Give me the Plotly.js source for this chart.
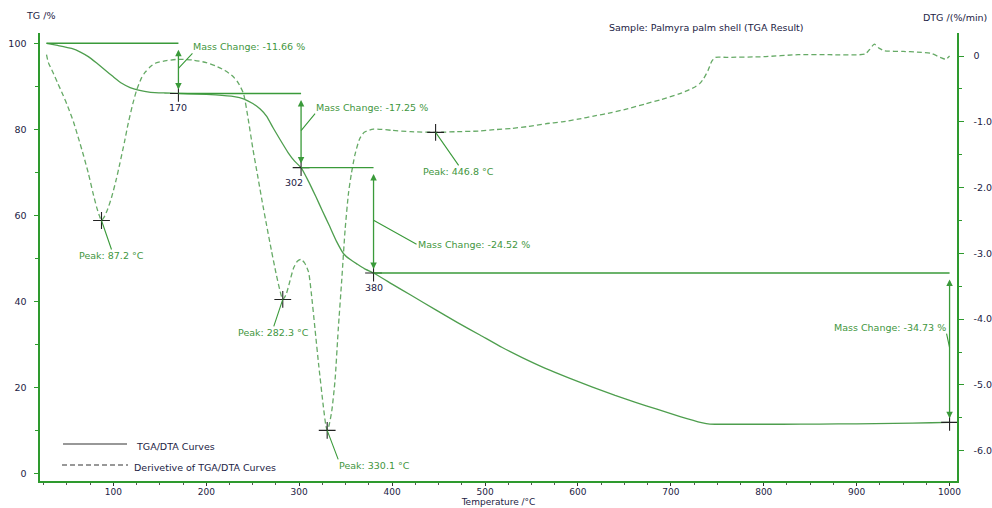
<!DOCTYPE html>
<html>
<head>
<meta charset="utf-8">
<script src="https://cdn.plot.ly/plotly-3.0.1.min.js"></script>
<style>html,body{margin:0;padding:0;background:#fff;}#chart{width:992px;height:508px;}</style>
</head>
<body>
<div id="chart"></div>
<script>
// ---- data ----
const tempTG = [28, 40, 55, 65, 73, 82, 91, 100, 109, 118, 127, 140, 155, 170, 190, 210, 230, 240, 250, 258, 265, 272, 280, 288, 295, 302, 310, 318, 325, 332, 340, 348, 355, 362, 370, 380, 400, 420, 447, 470, 495, 518, 540, 565, 590, 615, 640, 662, 685, 710, 733, 742, 780, 820, 860, 900, 940, 980, 1000];
const massTG = [100, 99.5, 98.8, 97.9, 96.9, 95.4, 93.8, 92.2, 90.7, 89.7, 89.1, 88.6, 88.45, 88.34, 88.2, 88.0, 87.6, 87.1, 86.0, 84.7, 83.0, 80.3, 77.4, 74.6, 72.6, 71.09, 67.9, 64.3, 61.0, 57.8, 54.0, 51.0, 49.7, 48.7, 47.6, 46.57, 44.0, 41.45, 38.0, 35.1, 32.1, 29.3, 26.9, 24.4, 22.2, 20.1, 18.1, 16.5, 14.9, 13.2, 11.8, 11.45, 11.4, 11.4, 11.45, 11.5, 11.6, 11.75, 11.84];

const tempDTG = [28, 30, 35, 40, 46, 51, 57, 62, 68, 73, 78, 82, 85, 87.2, 90, 94, 98, 103, 107, 112, 116, 121, 125, 130, 134, 140, 145, 157, 170, 185, 200, 210, 220, 228, 234, 240, 245, 250, 255, 260, 265, 270, 275, 279, 282.3, 286, 290, 294, 298, 302, 306, 310, 313, 317, 321, 326, 328.5, 330.1, 332, 335, 338.6, 342, 345.8, 349.4, 353, 356, 360, 365, 370, 380, 400, 420, 447, 470, 493, 510, 529, 547, 565, 583, 600, 618, 636, 654, 672, 690, 708, 717, 726, 731, 735, 740, 744, 748, 760, 800, 837, 870, 909, 914, 919, 924, 930, 950, 965, 980, 990, 996, 1000];
const rateDTG = [0.02, -0.10, -0.25, -0.41, -0.60, -0.77, -1.00, -1.23, -1.52, -1.78, -2.08, -2.30, -2.43, -2.50, -2.45, -2.32, -2.15, -1.88, -1.63, -1.30, -1.02, -0.72, -0.52, -0.34, -0.25, -0.16, -0.11, -0.07, -0.05, -0.06, -0.10, -0.15, -0.22, -0.30, -0.40, -0.57, -0.95, -1.40, -1.80, -2.20, -2.58, -2.95, -3.30, -3.55, -3.70, -3.62, -3.42, -3.22, -3.12, -3.09, -3.15, -3.28, -3.60, -4.15, -4.70, -5.33, -5.60, -5.69, -5.62, -5.40, -4.92, -4.16, -3.40, -2.64, -2.09, -1.80, -1.50, -1.26, -1.16, -1.11, -1.13, -1.15, -1.16, -1.15, -1.14, -1.12, -1.10, -1.07, -1.03, -1.00, -0.96, -0.91, -0.86, -0.80, -0.73, -0.66, -0.58, -0.53, -0.47, -0.42, -0.35, -0.22, -0.08, -0.02, -0.02, -0.01, 0.02, 0.02, 0.03, 0.10, 0.18, 0.12, 0.08, 0.07, 0.06, 0.04, -0.02, -0.05, 0.00];

const startTemp = 28;
const startMass = 100;
const stepTemps = [170, 302, 380, 1000];
const stepMass = [88.34, 71.09, 46.57, 11.84];
const stepLabels = ['170', '302', '380', ''];
const massChange = [-11.66, -17.25, -24.52, -34.73];

const peakTemps = [87.2, 282.3, 330.1, 446.8];
const peakRates = [-2.50, -3.70, -5.69, -1.16];

const xTicks = [100, 200, 300, 400, 500, 600, 700, 800, 900, 1000];
const tgTicks = [0, 20, 40, 60, 80, 100];
const dtgTicks = [0, -1, -2, -3, -4, -5, -6];
const dtgLabels = ['0', '-1.0', '-2.0', '-3.0', '-4.0', '-5.0', '-6.0'];

// ---- style ----
const FONT = 'DejaVu Sans';
const AXIS_GREEN = '#2e9a2e';
const CURVE_GREEN = '#4e9e4e';
const DASH_GREEN = '#66aa66';
const ANN_GREEN = '#3a9a3a';
const TXT_GREEN = '#3f9640';
const DARK = '#222244';

// label placement (pixel offsets of text from leader point)
const mcOffsets = [[14, -15, 'left', 'bottom'], [14, -17, 'left', 'bottom'], [43, 24, 'left', 'middle'], [-3, -14, 'right', 'bottom']];
const pkOffsets = [[10, 29, 'center', 'top'], [-9, 27, 'center', 'top'], [11, 29, 'left', 'top'], [23, 33, 'center', 'top']];
const stepLabelShift = [0, -7, 0, 0];

const traces = [
  {x: tempTG, y: massTG, type: 'scatter', mode: 'lines', line: {color: CURVE_GREEN, width: 1.3, shape: 'spline', smoothing: 0.4}, yaxis: 'y', hoverinfo: 'skip', showlegend: false},
  {x: tempDTG, y: rateDTG, type: 'scatter', mode: 'lines', line: {color: DASH_GREEN, width: 1.3, dash: '5px,3px', shape: 'spline', smoothing: 0.6}, yaxis: 'y2', hoverinfo: 'skip', showlegend: false},
  {x: stepTemps, y: stepMass, type: 'scatter', mode: 'markers', marker: {symbol: 'cross-thin', size: 12, line: {color: '#222', width: 1.1}}, yaxis: 'y', showlegend: false},
  {x: peakTemps, y: peakRates, type: 'scatter', mode: 'markers', marker: {symbol: 'cross-thin', size: 12, line: {color: '#222', width: 1.1}}, yaxis: 'y2', showlegend: false}
];

const shapes = [];
const annotations = [];
const levels = [startMass].concat(stepMass);
const temps = [startTemp].concat(stepTemps);

for (let i = 0; i < stepTemps.length; i++) {
  shapes.push({type: 'line', xref: 'x', yref: 'y', x0: temps[i], x1: stepTemps[i], y0: levels[i], y1: levels[i], line: {color: ANN_GREEN, width: 1.4}});
  annotations.push({xref: 'x', yref: 'y', axref: 'x', ayref: 'y', x: stepTemps[i], y: stepMass[i], ax: stepTemps[i], ay: levels[i], text: '', showarrow: true, arrowside: 'end+start', arrowhead: 2, startarrowhead: 2, arrowsize: 1, startarrowsize: 1, arrowwidth: 1.3, arrowcolor: ANN_GREEN, standoff: 4, startstandoff: 5});
  const o = mcOffsets[i];
  annotations.push({xref: 'x', yref: 'y', x: stepTemps[i], y: (levels[i] + stepMass[i]) / 2, ax: o[0], ay: o[1], xanchor: o[2], yanchor: o[3], showarrow: true, arrowhead: 0, arrowwidth: 1.1, arrowcolor: ANN_GREEN, text: 'Mass Change: ' + massChange[i].toFixed(2) + ' %', font: {family: FONT, size: 9.5, color: TXT_GREEN}, borderpad: 0});
  if (stepLabels[i]) {
    annotations.push({xref: 'x', yref: 'y', x: stepTemps[i], y: stepMass[i], text: stepLabels[i], showarrow: false, yanchor: 'top', yshift: -7, xshift: stepLabelShift[i], font: {family: FONT, size: 9.5, color: DARK}});
  }
}

for (let i = 0; i < peakTemps.length; i++) {
  const o = pkOffsets[i];
  annotations.push({xref: 'x', yref: 'y2', x: peakTemps[i], y: peakRates[i], ax: o[0], ay: o[1], xanchor: o[2], yanchor: o[3], showarrow: true, arrowhead: 0, arrowwidth: 1.1, arrowcolor: ANN_GREEN, text: 'Peak: ' + peakTemps[i].toFixed(1) + ' °C', font: {family: FONT, size: 9.5, color: TXT_GREEN}, borderpad: 0});
}

// header texts
annotations.push({xref: 'paper', yref: 'paper', x: -0.017, y: 1.039, xanchor: 'left', yanchor: 'middle', showarrow: false, text: 'TG /%', font: {family: FONT, size: 9.5, color: DARK}});
annotations.push({xref: 'paper', yref: 'paper', x: 1.035, y: 1.035, xanchor: 'right', yanchor: 'middle', showarrow: false, text: 'DTG /(%/min)', font: {family: FONT, size: 9.5, color: DARK}});
annotations.push({xref: 'paper', yref: 'paper', x: 0.618, y: 1.012, xanchor: 'left', yanchor: 'middle', showarrow: false, text: 'Sample: Palmyra palm shell (TGA Result)', font: {family: FONT, size: 9.5, color: DARK}});

// legend (drawn)
shapes.push({type: 'line', xref: 'paper', yref: 'paper', x0: 0.0251, x1: 0.0949, y0: 0.0826, y1: 0.0826, line: {color: '#333', width: 1.2}});
shapes.push({type: 'line', xref: 'paper', yref: 'paper', x0: 0.0240, x1: 0.0960, y0: 0.0357, y1: 0.0357, line: {color: '#333', width: 1.2, dash: '5px,3px'}});
annotations.push({xref: 'paper', yref: 'paper', x: 0.1025, y: 0.0770, xanchor: 'left', yanchor: 'middle', showarrow: false, text: 'TGA/DTA Curves', font: {family: FONT, size: 9.5, color: DARK}});
annotations.push({xref: 'paper', yref: 'paper', x: 0.1003, y: 0.0300, xanchor: 'left', yanchor: 'middle', showarrow: false, text: 'Derivetive of TGA/DTA Curves', font: {family: FONT, size: 9.5, color: DARK}});

const layout = {
  width: 992, height: 508,
  margin: {l: 40, r: 35, t: 33, b: 27},
  paper_bgcolor: '#ffffff', plot_bgcolor: '#ffffff',
  showlegend: false,
  font: {family: FONT, size: 9.5, color: DARK},
  xaxis: {
    range: [21, 1008], tickvals: xTicks, ticks: 'outside', ticklen: 3, tickcolor: '#333', tickwidth: 1,
    minor: {dtick: 25, tick0: 0, ticks: 'outside', ticklen: 2, tickcolor: '#555'},
    showline: true, linecolor: AXIS_GREEN, linewidth: 1.6, showgrid: false, zeroline: false,
    tickfont: {family: FONT, size: 9, color: DARK}, ticklabelstandoff: -1,
    title: {text: 'Temperature /°C', font: {family: FONT, size: 9, color: DARK}, standoff: 0},
    automargin: false
  },
  yaxis: {
    range: [-1.8, 102.4], tickvals: tgTicks, ticks: 'outside', ticklen: 4, tickcolor: AXIS_GREEN, tickwidth: 1,
    minor: {dtick: 10, tick0: 0, ticks: 'outside', ticklen: 3, tickcolor: AXIS_GREEN},
    showline: true, linecolor: AXIS_GREEN, linewidth: 1.6, showgrid: false, zeroline: false,
    tickfont: {family: FONT, size: 9.5, color: DARK}, ticklabelstandoff: 6,
    automargin: false
  },
  yaxis2: {
    overlaying: 'y', side: 'right', anchor: 'x',
    range: [-6.46, 0.35], tickvals: dtgTicks, ticktext: dtgLabels, ticks: 'outside', ticklen: 5, tickcolor: AXIS_GREEN, tickwidth: 1,
    minor: {dtick: 0.5, tick0: 0, ticks: 'outside', ticklen: 3, tickcolor: AXIS_GREEN},
    showline: true, linecolor: AXIS_GREEN, linewidth: 1.6, showgrid: false, zeroline: false,
    tickfont: {family: FONT, size: 9.5, color: DARK}, ticklabelstandoff: 8,
    automargin: false
  },
  shapes: shapes,
  annotations: annotations
};

Plotly.newPlot('chart', traces, layout, {displayModeBar: false, staticPlot: true});
</script>
</body>
</html>
